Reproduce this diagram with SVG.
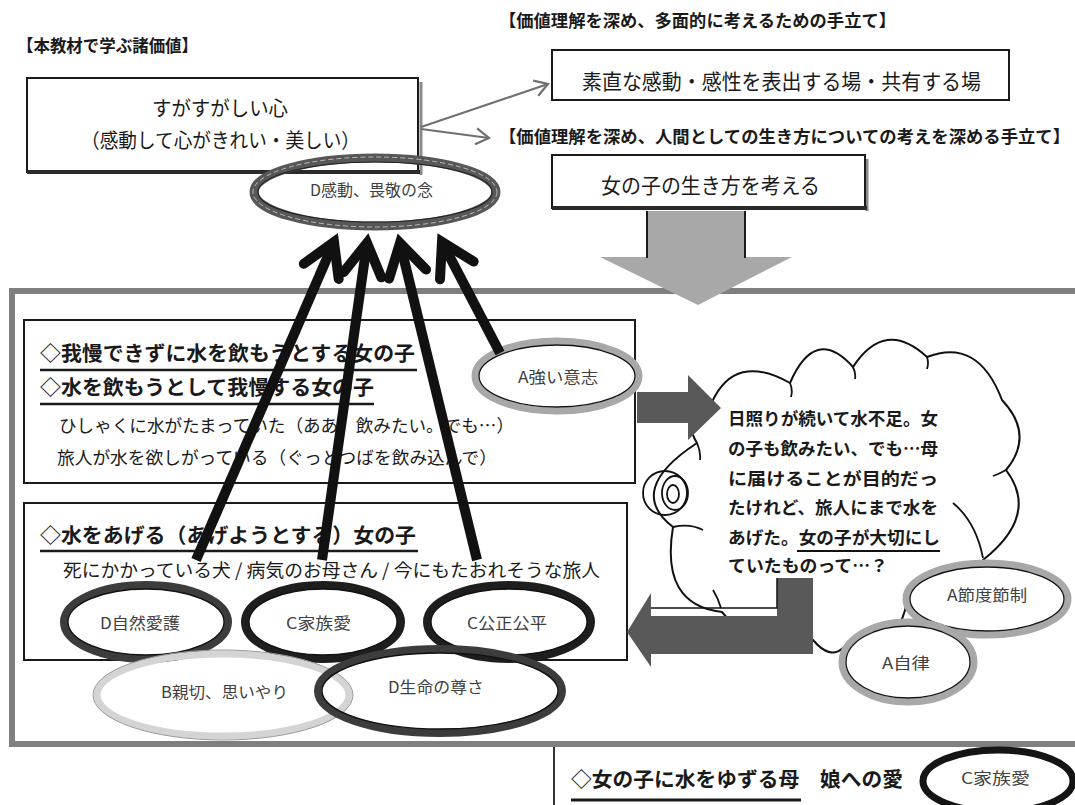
<svg xmlns="http://www.w3.org/2000/svg" width="1075" height="805" viewBox="0 0 1075 805">
<defs>
<style>
text{font-family:"Noto Sans CJK JP","Noto Sans",sans-serif;fill:#1a1a1a}
.h{font-size:17px;font-weight:bold}
.big{font-size:21px}
.mid{font-size:20.5px;font-weight:bold}
.sm{font-size:17.5px}
.cl{font-size:17.5px;font-weight:bold}
.lbl{font-size:15.5px;fill:#404040}
.box{fill:#fff;stroke:#1a1a1a;stroke-width:2}
.ul{stroke:#1a1a1a;stroke-width:2.5}
.inner{fill:none;stroke:#111;stroke-width:1.3}
.rd{stroke:#3c3c3c;stroke-width:8}
.rk{stroke:#1e1e1e;stroke-width:8}
.rl{stroke:#a8a8a8;stroke-width:7}
.rw{stroke:#d4d4d4;stroke-width:7}
.thick{fill:none;stroke:#111;stroke-width:10;marker-end:url(#chev)}
.thin{fill:none;stroke:#707070;stroke-width:2.2;marker-end:url(#open)}
</style>
<marker id="chev" markerUnits="userSpaceOnUse" viewBox="-50 -40 80 80" markerWidth="80" markerHeight="80" refX="0" refY="0" orient="auto" overflow="visible">
<path d="M -32 -19 L 0 0 L -32 19" fill="none" stroke="#111" stroke-width="10" stroke-linejoin="miter" stroke-linecap="round"/>
</marker>
<marker id="open" markerUnits="userSpaceOnUse" viewBox="-20 -15 30 30" markerWidth="30" markerHeight="30" refX="0" refY="0" orient="auto" overflow="visible">
<path d="M -13 -8 L 0 0 L -13 8" fill="none" stroke="#707070" stroke-width="2.2"/>
</marker>
</defs>
<rect width="1075" height="805" fill="#fff"/>

<g id="title">
<text x="17" y="52" class="h" textLength="181" lengthAdjust="spacingAndGlyphs">【本教材で学ぶ諸価値】</text>
</g>

<g id="heading1">
<text x="499" y="27" class="h" textLength="397" lengthAdjust="spacingAndGlyphs">【価値理解を深め、多面的に考えるための手立て】</text>
</g>

<g id="heading2">
<text x="499" y="143" class="h" textLength="571" lengthAdjust="spacingAndGlyphs">【価値理解を深め、人間としての生き方についての考えを深める手立て】</text>
</g>

<g id="node-sugasugashii">
<line x1="421" y1="82" x2="421" y2="175" stroke="#8a8a8a" stroke-width="3"/>
<rect x="27" y="78" width="391" height="94" class="box" stroke-width="2.5"/>
<line x1="27" y1="172" x2="420" y2="172" stroke="#2a2a2a" stroke-width="4"/>
<text x="152" y="116" style="font-size:20px" textLength="136" lengthAdjust="spacingAndGlyphs">すがすがしい心</text>
<text x="81" y="148" style="font-size:20px" textLength="279" lengthAdjust="spacingAndGlyphs">（感動して心がきれい・美しい）</text>
</g>

<g id="node-kandou">
<ellipse cx="375" cy="192" rx="121" ry="34" fill="none" stroke="#575757" stroke-width="9"/>
<ellipse cx="375" cy="192" rx="117" ry="30" fill="none" stroke="#222" stroke-width="1.2"/>
<ellipse cx="375" cy="192" rx="122" ry="35" fill="none" stroke="#bbb" stroke-width="1" stroke-dasharray="5 3"/>
<text x="310" y="196" class="lbl" textLength="123" lengthAdjust="spacingAndGlyphs">D感動、畏敬の念</text>
</g>

<g id="node-sunao">
<rect x="552" y="50" width="457" height="50" class="box" stroke-width="2.5"/>
<text x="582" y="89" class="big" textLength="399" lengthAdjust="spacingAndGlyphs">素直な感動・感性を表出する場・共有する場</text>
</g>

<g id="node-onnanoko">
<line x1="867" y1="159" x2="867" y2="211" stroke="#8a8a8a" stroke-width="3"/>
<rect x="552" y="155" width="313" height="53" class="box" stroke-width="2.5"/>
<line x1="552" y1="208" x2="867" y2="208" stroke="#2a2a2a" stroke-width="4"/>
<text x="601" y="193" class="big" textLength="219" lengthAdjust="spacingAndGlyphs">女の子の生き方を考える</text>
</g>

<g id="frame">
<rect x="12" y="291" width="1080" height="453" fill="none" stroke="#7f7f7f" stroke-width="6"/>
</g>

<g id="down-arrow">
<polygon points="647,211 745,211 745,257 792,257 698,305 600,257 647,257" fill="#a8a8a8"/>
<line x1="647" y1="211" x2="647" y2="258" stroke="#1a1a1a" stroke-width="2"/>
<line x1="745" y1="211" x2="745" y2="258" stroke="#1a1a1a" stroke-width="2"/>
</g>

<g id="node-boxA">
<rect x="24" y="320" width="611" height="163" class="box"/>
<text x="40" y="361" class="mid" textLength="375" lengthAdjust="spacingAndGlyphs">◇我慢できずに水を飲もうとする女の子</text>
<line x1="40" y1="370" x2="417" y2="370" class="ul"/>
<text x="40" y="395" class="mid" textLength="334" lengthAdjust="spacingAndGlyphs">◇水を飲もうとして我慢する女の子</text>
<line x1="40" y1="404" x2="374" y2="404" class="ul"/>
<text x="59" y="432" class="sm" textLength="455" lengthAdjust="spacingAndGlyphs">ひしゃくに水がたまっていた（ああ、飲みたい。でも…）</text>
<text x="57" y="464" class="sm" textLength="440" lengthAdjust="spacingAndGlyphs">旅人が水を欲しがっている（ぐっとつばを飲み込んで）</text>
</g>

<g id="node-boxB">
<rect x="24" y="503" width="603" height="157" class="box"/>
<text x="40" y="543" class="mid" textLength="376" lengthAdjust="spacingAndGlyphs">◇水をあげる（あげようとする）女の子</text>
<line x1="40" y1="551" x2="418" y2="551" class="ul"/>
<text x="63" y="577" style="font-size:18px" textLength="537" lengthAdjust="spacingAndGlyphs">死にかかっている犬 / 病気のお母さん / 今にもたおれそうな旅人</text>
</g>

<g id="node-cloud">
<path d="M 712 402 Q 735 352 790 383 Q 815 325 853 367 Q 885 318 927 357 Q 978 337 1002 400 Q 1035 435 1006 470 Q 1040 515 983 560 Q 960 610 907 603 Q 890 670 843 648 Q 830 660 813 640 Q 765 665 722 612 Q 660 605 673 527 Q 625 490 697 443 Q 680 415 712 402 Z" fill="#fff" stroke="#111" stroke-width="2"/>
<path d="M 790 383 Q 793 390 791 397 M 853 367 Q 856 373 855 379 M 927 357 Q 929 363 927 369 M 1006 470 Q 999 474 993 476 M 953 503 Q 976 522 983 558 M 673 527 Q 690 523 703 530 M 697 443 Q 701 452 700 460 M 713 590 Q 718 598 721 608" fill="none" stroke="#111" stroke-width="1.8"/>
<circle cx="665" cy="493" r="22" fill="none" stroke="#111" stroke-width="1.8"/>
<ellipse cx="675" cy="493" rx="13" ry="17" fill="none" stroke="#111" stroke-width="1.8"/>
<ellipse cx="673" cy="494" rx="6" ry="9" fill="none" stroke="#111" stroke-width="1.8"/>
<text x="728" y="425" class="cl" textLength="210" lengthAdjust="spacingAndGlyphs">日照りが続いて水不足。女</text>
<text x="728" y="455" class="cl" textLength="210" lengthAdjust="spacingAndGlyphs">の子も飲みたい、でも…母</text>
<text x="728" y="485" class="cl" textLength="210" lengthAdjust="spacingAndGlyphs">に届けることが目的だっ</text>
<text x="728" y="514" class="cl" textLength="210" lengthAdjust="spacingAndGlyphs">たけれど、旅人にまで水を</text>
<text x="728" y="544" class="cl" textLength="212" lengthAdjust="spacingAndGlyphs">あげた。女の子が大切にし</text>
<line x1="797" y1="551" x2="940" y2="551" stroke="#111" stroke-width="2"/>
<text x="728" y="572" class="cl" textLength="160" lengthAdjust="spacingAndGlyphs">ていたものって…？</text>
</g>

<g id="node-B-shinsetsu-fill">
<ellipse cx="223" cy="695" rx="126" ry="41" fill="#fff"/>
<ellipse cx="440" cy="691" rx="122" ry="42" fill="#fff"/>
</g>

<g id="node-D-shizen">
<ellipse cx="146" cy="622" rx="82" ry="37" fill="#fff" class="rd"/>
<ellipse cx="146" cy="622" rx="78" ry="33" class="inner"/>
<text x="100" y="629" class="lbl" textLength="80" lengthAdjust="spacingAndGlyphs">D自然愛護</text>
</g>

<g id="node-C-kazoku">
<ellipse cx="323" cy="622" rx="78" ry="37" fill="#fff" class="rk"/>
<ellipse cx="323" cy="622" rx="74" ry="33" class="inner"/>
<text x="286" y="629" class="lbl" textLength="65" lengthAdjust="spacingAndGlyphs">C家族愛</text>
</g>

<g id="node-C-kousei">
<ellipse cx="509" cy="622" rx="82" ry="37" fill="#fff" class="rk"/>
<ellipse cx="509" cy="622" rx="78" ry="33" class="inner"/>
<text x="467" y="629" class="lbl" textLength="80" lengthAdjust="spacingAndGlyphs">C公正公平</text>
</g>

<g id="node-B-shinsetsu">
<ellipse cx="223" cy="695" rx="126" ry="41" fill="none" class="rw"/>
<ellipse cx="223" cy="695" rx="130" ry="45" fill="none" stroke="#999" stroke-width="1"/>
<text x="161" y="698" class="lbl" textLength="127" lengthAdjust="spacingAndGlyphs">B親切、思いやり</text>
</g>

<g id="node-D-seimei">
<ellipse cx="440" cy="691" rx="122" ry="42" fill="none" class="rd"/>
<ellipse cx="440" cy="691" rx="118" ry="38" class="inner"/>
<text x="388" y="693" class="lbl" textLength="96" lengthAdjust="spacingAndGlyphs">D生命の尊さ</text>
</g>

<g id="node-A-tsuyoi">
<ellipse cx="557" cy="376" rx="82" ry="35" fill="#fff" class="rl"/>
<ellipse cx="557" cy="376" rx="78" ry="31" class="inner"/>
<text x="518" y="383" class="lbl" textLength="80" lengthAdjust="spacingAndGlyphs">A強い意志</text>
</g>

<g id="node-A-setsudo">
<ellipse cx="987" cy="599" rx="81" ry="36" fill="#fff" class="rl"/>
<ellipse cx="987" cy="599" rx="77" ry="32" class="inner"/>
<text x="947" y="601" class="lbl" textLength="80" lengthAdjust="spacingAndGlyphs">A節度節制</text>
</g>

<g id="node-A-jiritsu">
<ellipse cx="908" cy="662" rx="66" ry="40" fill="#fff" class="rl"/>
<ellipse cx="908" cy="662" rx="62" ry="36" class="inner"/>
<text x="882" y="669" class="lbl" textLength="48" lengthAdjust="spacingAndGlyphs">A自律</text>
</g>

<g id="node-bottom">
<line x1="554" y1="747" x2="554" y2="805" stroke="#333" stroke-width="2"/>
<text x="571" y="787" class="mid" textLength="332" lengthAdjust="spacingAndGlyphs">◇女の子に水をゆずる母　娘への愛</text>
<line x1="571" y1="800" x2="801" y2="800" stroke="#1a1a1a" stroke-width="3"/>
<ellipse cx="998" cy="781" rx="75" ry="31" fill="#fff" stroke="#151515" stroke-width="7"/>
<text x="961" y="784" class="lbl" textLength="69" lengthAdjust="spacingAndGlyphs">C家族愛</text>
</g>

<g id="connectors">
<path d="M 421 127 L 548 84" class="thin"/>
<path d="M 421 129 L 489 138" class="thin"/>
<polygon points="637,392 688,392 688,375 721,408 688,440 688,423 637,423" fill="#595959"/>
<polygon points="813,578 813,654 651,654 651,667 627,632 651,593 651,616 777,616 777,578" fill="#595959"/>
<polyline points="651,608 777,608 777,578" fill="none" stroke="#111" stroke-width="1.5"/>
<path d="M 196 560 L 334 242" class="thick"/>
<path d="M 322 560 L 367 243" class="thick"/>
<path d="M 477 560 L 400 243" class="thick"/>
<path d="M 500 353 L 442 242" class="thick"/>
</g>
</svg>
